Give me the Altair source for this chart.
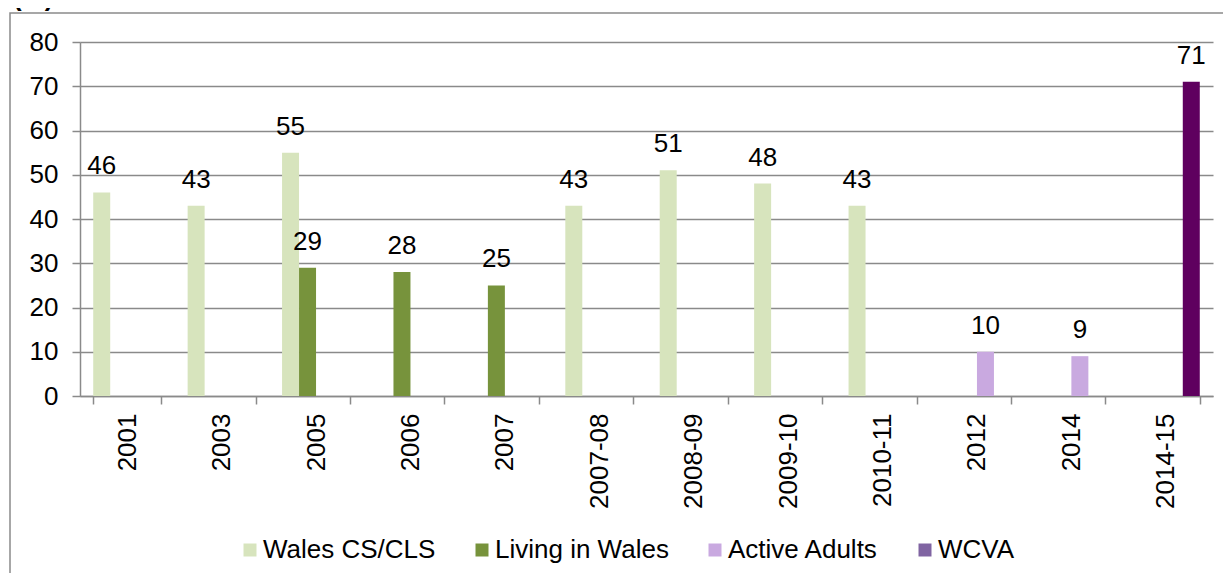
import altair as alt
import pandas as pd

categories = ["2001", "2003", "2005", "2006", "2007", "2007-08", "2008-09",
              "2009-10", "2010-11", "2012", "2014", "2014-15"]
series = ["Wales CS/CLS", "Living in Wales", "Active Adults", "WCVA"]
wales_cs_cls = [46, 43, 55, None, None, 43, 51, 48, 43, None, None, None]
living_in_wales = [None, None, 29, 28, 25, None, None, None, None, None, None, None]
active_adults = [None, None, None, None, None, None, None, None, None, 10, 9, None]
wcva = [None, None, None, None, None, None, None, None, None, None, None, 71]
legend_colors = ["#d7e4bd", "#77933c", "#c9a9e0", "#8064a2"]
wcva_bar_color = "#5f005f"
y_ticks = [0, 10, 20, 30, 40, 50, 60, 70, 80]

rows = []
for name, vals in zip(series, [wales_cs_cls, living_in_wales, active_adults, wcva]):
    for cat, v in zip(categories, vals):
        if v is not None:
            rows.append({"category": cat, "series": name, "value": v})
df = pd.DataFrame(rows)

W, H = 1133, 354
FONT = "Liberation Sans"
GRAY = "#8a8a8a"

x_enc = alt.X("category:N", sort=categories,
              scale=alt.Scale(domain=categories, paddingInner=0.28, paddingOuter=0.14),
              axis=alt.Axis(title=None, labelAngle=270, tickBand="extent", tickSize=8,
                            labelPadding=9, labelFontSize=26, labelFont=FONT,
                            labelColor="#000000", domainColor=GRAY, tickColor=GRAY,
                            domainWidth=1.5, tickWidth=1.5, grid=False))
xoff_enc = alt.XOffset("series:N", scale=alt.Scale(domain=series, paddingInner=0, paddingOuter=0))
y_enc = alt.Y("value:Q", scale=alt.Scale(domain=[0, 80], nice=False),
              axis=alt.Axis(title=None, values=y_ticks, tickSize=8, labelPadding=14,
                            labelFontSize=26, labelFont=FONT, labelColor="#000000",
                            grid=True, gridColor=GRAY, gridWidth=1.5,
                            domainColor=GRAY, tickColor=GRAY, domainWidth=1.5, tickWidth=1.5))

base = alt.Chart(df)

bars = base.mark_bar().encode(
    x=x_enc,
    xOffset=xoff_enc,
    y=y_enc,
    color=alt.condition(
        alt.datum.series == "WCVA",
        alt.value(wcva_bar_color),
        alt.Color("series:N", scale=alt.Scale(domain=series, range=legend_colors),
                  legend=alt.Legend(title=None, orient="none", direction="horizontal",
                                    legendX=157, legendY=495, padding=0,
                                    symbolType="square", symbolSize=169,
                                    symbolStrokeWidth=0, columnPadding=33,
                                    labelOffset=0, labelFontSize=26, labelFont=FONT,
                                    labelColor="#000000", labelLimit=400))
    ),
)

labels = base.mark_text(baseline="alphabetic", dy=-18, fontSize=26, font=FONT,
                        color="#000000").encode(
    x=alt.X("category:N", sort=categories),
    xOffset=alt.XOffset("series:N"),
    y=alt.Y("value:Q"),
    text=alt.Text("value:Q"),
)

frame = alt.Chart(alt.Data(values=[{"k": 1}])).mark_rect(
    fillOpacity=0, stroke=GRAY, strokeWidth=1.5
).encode(
    x=alt.value(-70), x2=alt.value(W + 80),
    y=alt.value(-29), y2=alt.value(H + 300),
)

unit_label = alt.Chart(alt.Data(values=[{"k": 1}])).mark_text(
    align="left", baseline="alphabetic", fontSize=26, font=FONT, fontWeight="bold",
    color="#000000"
).encode(
    x=alt.value(-67), y=alt.value(-36), text=alt.value("(%)")
)

chart = alt.layer(frame, bars, labels, unit_label).properties(
    width=W, height=H,
    autosize=alt.AutoSizeParams(type="none"),
    padding={"left": 72, "top": 34, "right": 10, "bottom": 177},
).configure_view(stroke=None)

chart.save("out.html", embed_options={"renderer": "svg", "actions": False})
